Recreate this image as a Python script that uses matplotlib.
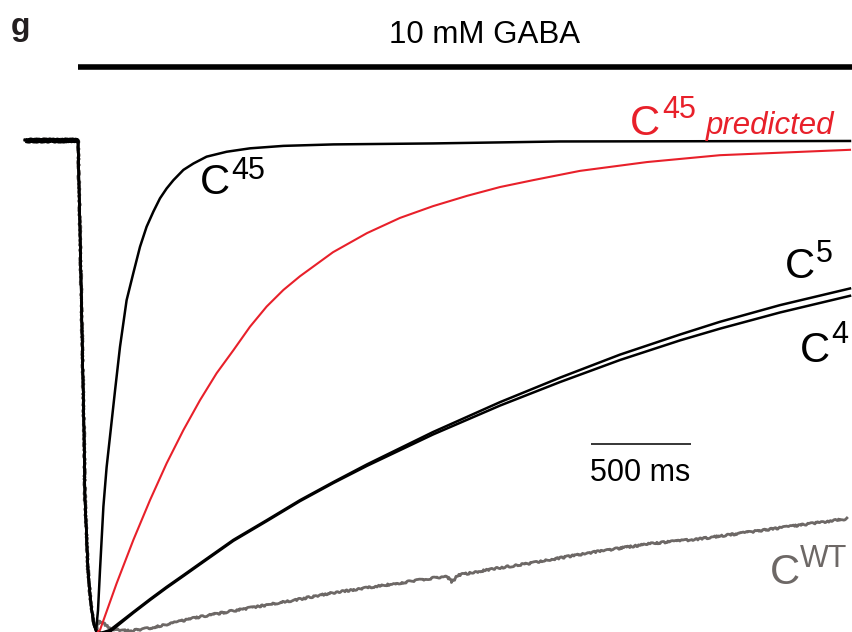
import matplotlib
matplotlib.use("Agg")
import matplotlib.pyplot as plt

plt.rcParams['font.family'] = ['Liberation Sans', 'DejaVu Sans']

W, H = 852, 632

# ---- data: time (ms) and normalized current (baseline 0, peak -1) ----
drop_t = [0, 265, 275, 285, 295, 300, 315, 330, 345]
drop_i = [0.0, 0.0, -0.184, -0.388, -0.592, -0.735, -0.878, -0.949, -0.990]

c45_t = [355, 365, 375, 392, 408, 425, 450, 475, 508, 542, 575, 608, 642,
         675, 708, 742, 792, 842, 908, 1008, 1125, 1292, 1542, 2040, 2675,
         4125]
c45_i = [-1.002, -0.960, -0.878, -0.748, -0.668, -0.605, -0.512, -0.422,
         -0.327, -0.271, -0.218, -0.177, -0.146, -0.119, -0.099, -0.082,
         -0.061, -0.048, -0.034, -0.024, -0.017, -0.012, -0.009, -0.007,
         -0.003, -0.002]

pred_t = [360, 375, 458, 542, 625, 708, 792, 875, 958, 1042, 1125, 1208,
          1292, 1375, 1540, 1710, 1875, 2040, 2210, 2375, 2540, 2775, 3110,
          3475, 4125]
pred_i = [-1.004, -1.0, -0.905, -0.816, -0.735, -0.660, -0.592, -0.531,
          -0.476, -0.429, -0.381, -0.340, -0.306, -0.278, -0.229, -0.190,
          -0.159, -0.135, -0.114, -0.096, -0.082, -0.063, -0.045, -0.031,
          -0.020]

c5_t = [360, 380, 425, 542, 625, 708, 792, 875, 1042, 1208, 1375, 1542,
        1710, 2040, 2375, 2675, 2975, 3275, 3475, 3775, 4125]
c5_i = [-1.004, -1.006, -1.0, -0.963, -0.937, -0.912, -0.888, -0.864,
        -0.816, -0.776, -0.735, -0.698, -0.662, -0.596, -0.535, -0.485,
        -0.438, -0.397, -0.371, -0.337, -0.303]

c4_t = [360, 385, 430, 542, 625, 708, 792, 875, 1042, 1208, 1375, 1542,
        1710, 2040, 2375, 2675, 2975, 3275, 3475, 3775, 4125]
c4_i = [-1.004, -1.006, -1.002, -0.965, -0.939, -0.914, -0.890, -0.866,
        -0.818, -0.778, -0.737, -0.700, -0.665, -0.601, -0.542, -0.494,
        -0.449, -0.409, -0.385, -0.352, -0.318]

wt_t = [355, 370, 390, 435, 525, 625, 875, 1040, 1210, 1375, 1540, 1710,
        1875, 2040, 2110, 2135, 2165, 2375, 2540, 2675, 2875, 3125, 3375,
        3625, 3875, 4110]
wt_i = [-1.0, -0.982, -0.986, -0.998, -1.002, -0.996, -0.973, -0.961,
        -0.949, -0.937, -0.924, -0.914, -0.904, -0.894, -0.890, -0.902,
        -0.888, -0.873, -0.863, -0.853, -0.839, -0.824, -0.814, -0.800,
        -0.786, -0.773]

gaba_t = [265, 4200]
gaba_level = 0.149
scale_t = [2830, 3330]
scale_level = -0.620

BLACK = '#000000'
RED = '#e8202a'
GRAY = '#6d6866'

fig = plt.figure(figsize=(W / 100, H / 100), dpi=100)
ax = fig.add_axes([0, 0, 1, 1])
ax.set_xlim(-125, 4135)
ax.set_ylim(-492 / 490, 140 / 490)
ax.axis('off')

def full(t, i):
    return drop_t + t, drop_i + i

lw = 1.8
t, i = full(wt_t, wt_i)
gl, = ax.plot(t, i, color=GRAY, lw=2.0, solid_joinstyle='round')
gl.set_sketch_params(scale=0.9, length=4, randomness=8)
t, i = full(c4_t, c4_i)
ax.plot(t, i, color=BLACK, lw=lw, solid_joinstyle='round')
t, i = full(c5_t, c5_i)
ax.plot(t, i, color=BLACK, lw=lw, solid_joinstyle='round')
ax.plot(pred_t, pred_i, color=RED, lw=1.5, solid_joinstyle='round')
t, i = full(c45_t, c45_i)
ax.plot(t, i, color=BLACK, lw=lw, solid_joinstyle='round')
# thick overlapping baseline before application
bl, = ax.plot(drop_t[:2], drop_i[:2], color=BLACK, lw=3.6,
              solid_capstyle='butt')
bl.set_sketch_params(scale=0.6, length=3, randomness=6)

# GABA application bar
ax.plot(gaba_t, [gaba_level] * 2, color=BLACK, lw=4.0, solid_capstyle='butt')
# scale bar
ax.plot(scale_t, [scale_level] * 2, color=BLACK, lw=1.1, solid_capstyle='butt')

def txt(x, y, s, **kw):
    fig.text(x / W, 1 - y / H, s, va='baseline', **kw)

txt(11, 35, 'g', fontsize=23, fontweight='bold', color='#231f20')
txt(485, 43, '10 mM GABA', fontsize=22.5, ha='center')
txt(640, 481, '500 ms', fontsize=22, ha='center')

# trace labels
txt(200, 194, 'C', fontsize=30)
txt(231, 179, '45', fontsize=22)

txt(630, 135, 'C', fontsize=30, color=RED)
txt(662, 118, '45', fontsize=22, color=RED)
txt(706, 134, 'predicted', fontsize=22.5, color=RED, style='italic')

txt(785, 278, 'C', fontsize=30)
txt(816, 262, '5', fontsize=22)

txt(800, 362, 'C', fontsize=30)
txt(831, 343, '4', fontsize=22)

txt(770, 584, 'C', fontsize=30, color=GRAY)
txt(800, 567, 'WT', fontsize=22, color=GRAY)

fig.savefig('out.png', dpi=100)
